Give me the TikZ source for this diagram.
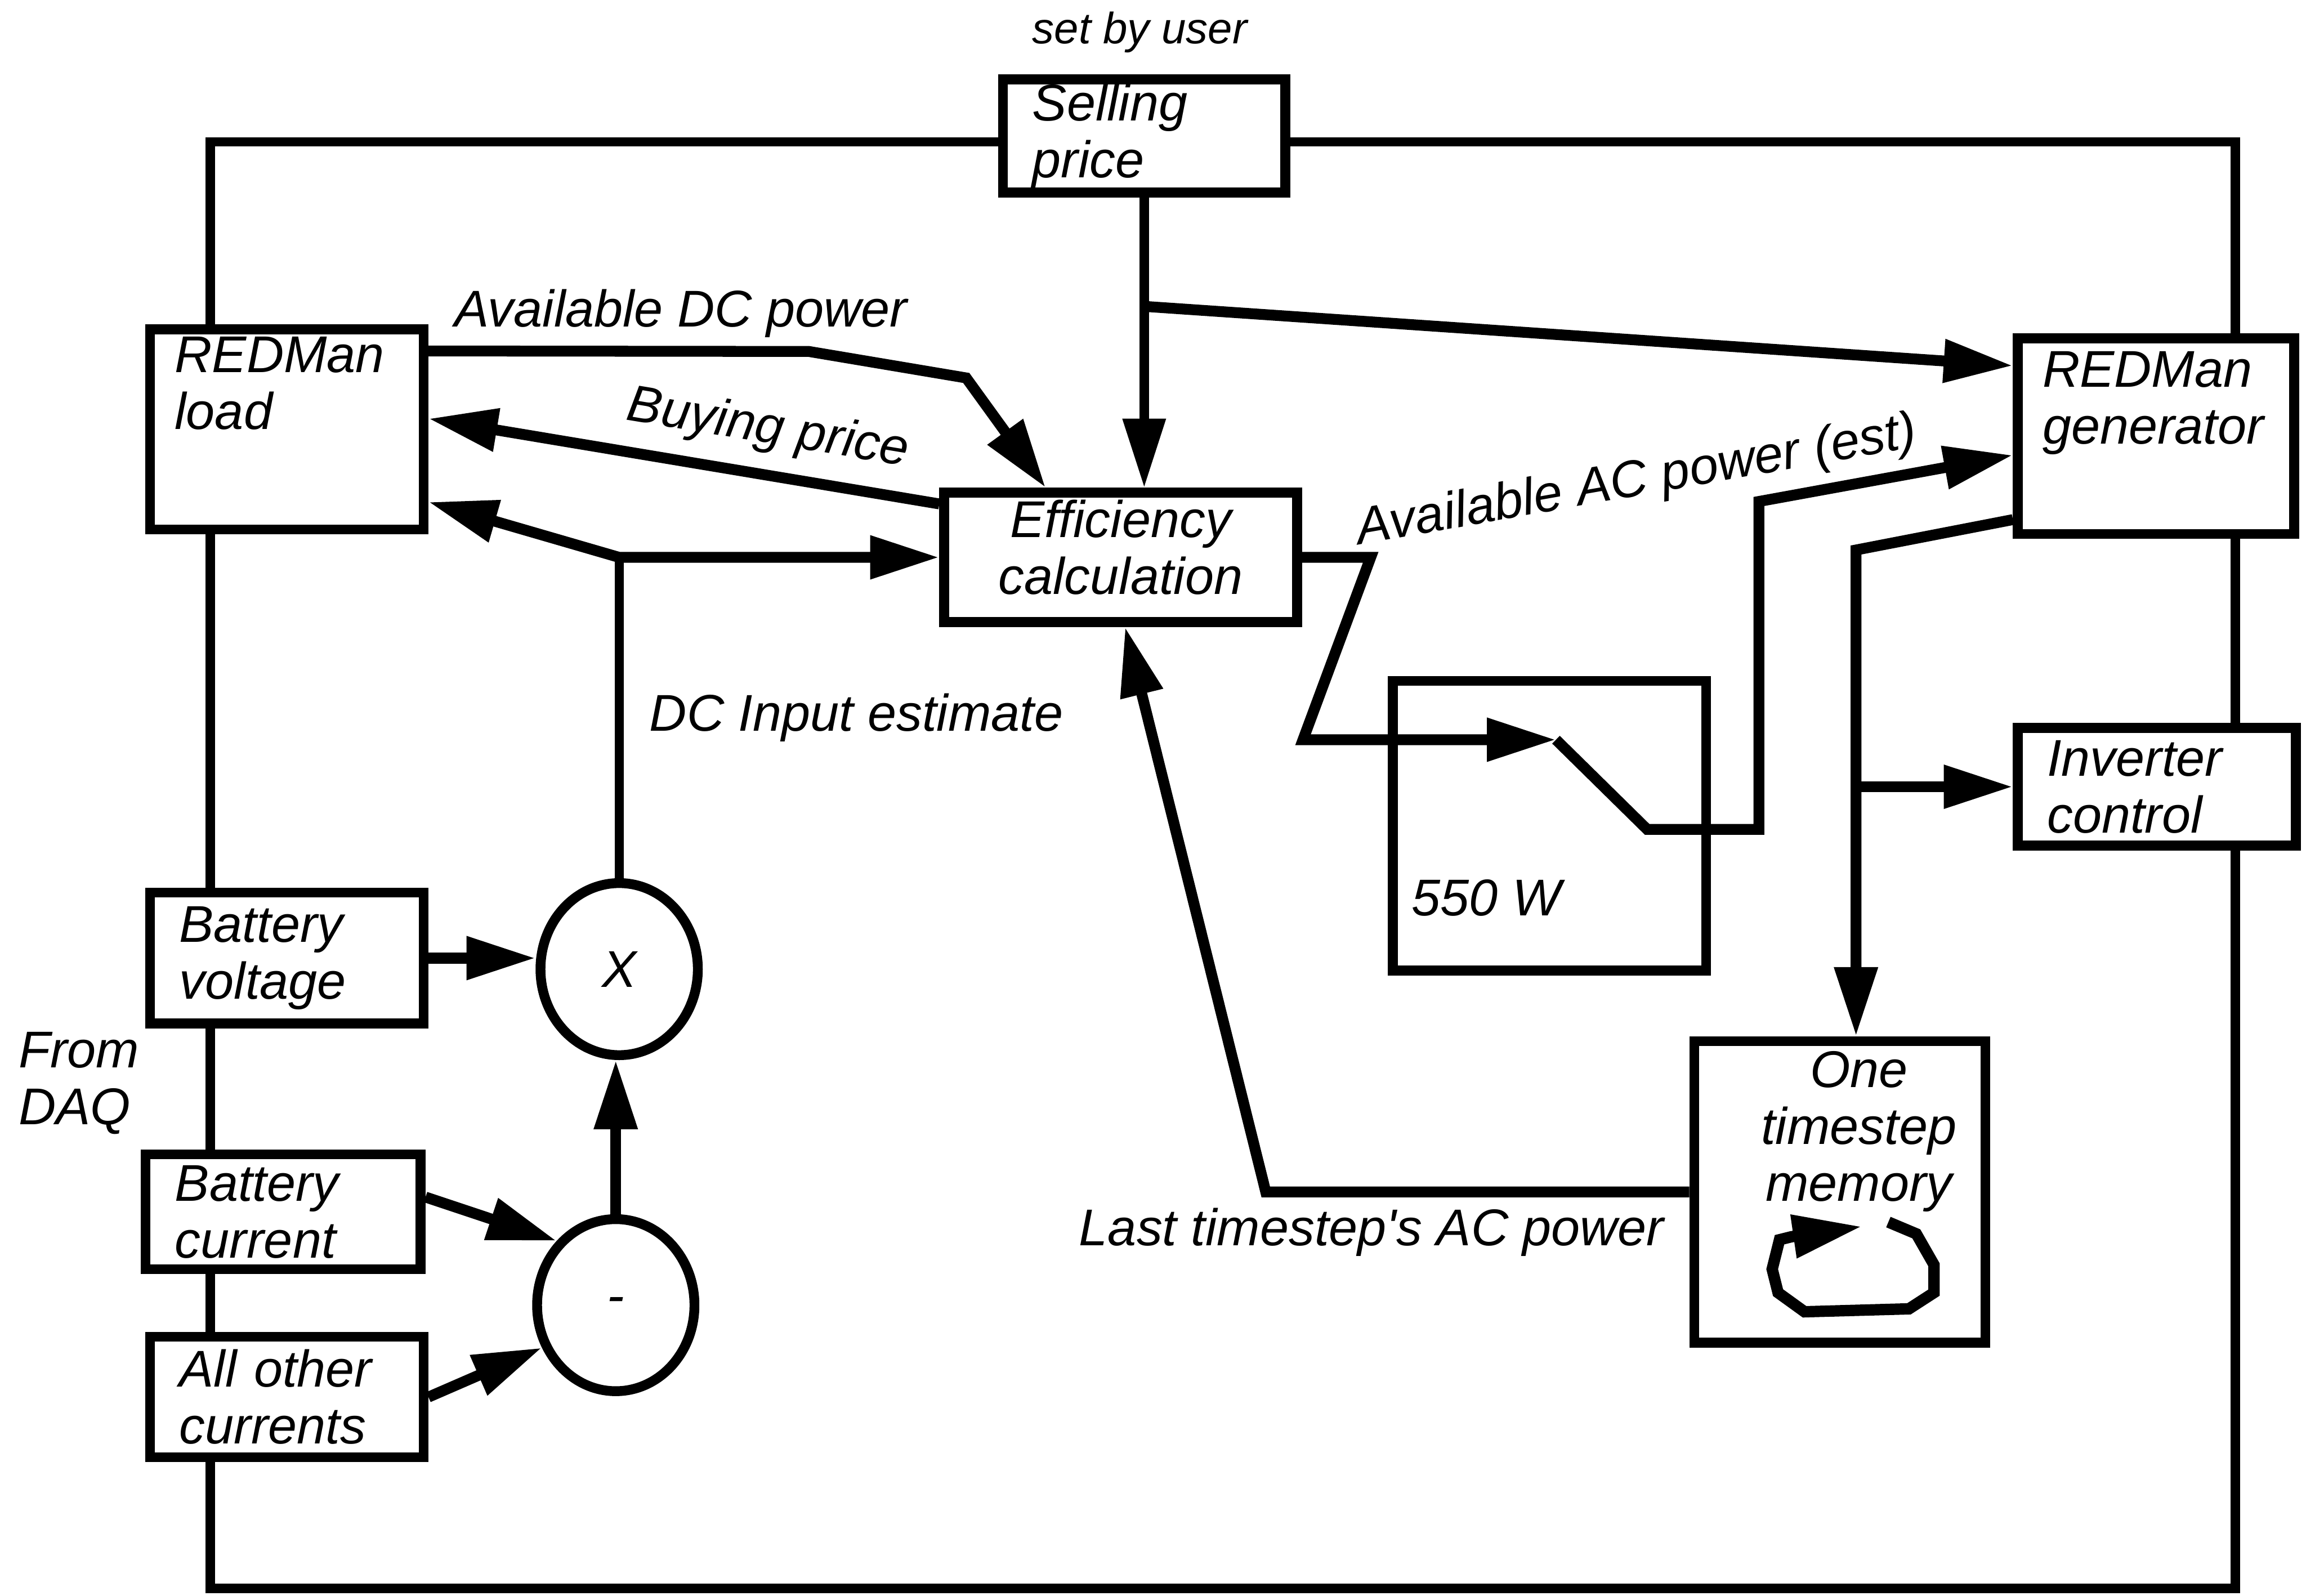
\documentclass[tikz,border=0pt]{standalone}
\usepackage{fontspec}
\setmainfont{Liberation Sans}
\usepackage{tikz}
\usetikzlibrary{positioning,arrows.meta,shapes.geometric,calc}
\tikzset{
  every node/.style={font=\fontsize{10}{11}\selectfont\itshape},
  >={Triangle[length=4.7mm,width=2.8mm]},
  blk/.style={
    rectangle, draw, line width=1.9pt,
    inner xsep=0.2cm, inner ysep=0pt,
    align=left
  },
  sumnode/.style={
    ellipse, draw, line width=1.9pt,
    minimum width=1.07cm, minimum height=1.17cm,
    inner sep=0pt
  },
  lbl/.style={inner sep=1pt},
  wire/.style={line width=1.8pt},
  flow/.style={->, line width=2.1pt},
}

\begin{document}
\begin{tikzpicture}
  \useasboundingbox (0,0) rectangle (15.68,10.85);
  % blocks
  \node[blk, minimum width=1.92cm, minimum height=0.77cm, text width=1.52cm] (sell) at (7.78,9.925) {Selling\\price};
  \node[blk, minimum width=1.86cm, minimum height=1.36cm] (load) at (1.95,7.93) {};
  \node[lbl, anchor=north west, align=left] (loadtxt) at ([shift={(0.16,-0.04)}]load.north west) {REDMan\\load};
  \node[blk, minimum width=2.40cm, minimum height=0.88cm] (eff) at (7.62,7.06) {};
  \node[lbl, align=center] (efftxt) at ([yshift=0.07cm]eff.center) {Efficiency\\calculation};
  \node[blk, minimum width=1.88cm, minimum height=1.33cm] (gen) at (14.66,7.885) {};
  \node[lbl, anchor=north west, align=left] (gentxt) at ([shift={(0.16,-0.08)}]gen.north west) {REDMan\\generator};
  \node[blk, minimum width=1.89cm, minimum height=0.80cm, text width=1.49cm] (inv) at (14.665,5.50) {Inverter\\control};
  \node[blk, minimum width=2.13cm, minimum height=1.97cm] (lim) at (10.535,5.235) {};
  \node[lbl, anchor=south west] (limtxt) at ([shift={(0.12,0.36)}]lim.south west) {550 W};
  \node[blk, minimum width=1.98cm, minimum height=2.05cm] (mem) at (12.51,2.745) {};
  \node[lbl, anchor=north, align=center] (memtxt) at ([shift={(0.13,-0.06)}]mem.north) {One\\timestep\\memory};
  \node[blk, minimum width=1.86cm, minimum height=0.89cm, text width=1.46cm] (volt) at (1.95,4.335) {Battery\\voltage};
  \node[blk, minimum width=1.87cm, minimum height=0.78cm, text width=1.47cm] (curr) at (1.925,2.61) {Battery\\current};
  \node[blk, minimum width=1.86cm, minimum height=0.82cm, text width=1.46cm] (oth) at (1.95,1.35) {All other\\currents};
  \node[sumnode] (mul) at (4.21,4.26) {X};
  \node[sumnode] (sub) at (4.187,1.975) {-};

  % free labels
  \node[lbl, font=\fontsize{8.5}{10}\selectfont\itshape] (user) at (7.75,10.63) {set by user};
  \node[lbl, anchor=west, align=left] (daq) at (0.085,3.485) {From\\DAQ};
  \node[lbl] (dcpw) at (4.63,8.72) {Available DC power};
  \node[lbl, rotate=10] (acpw) at (11.13,7.57) {Available AC power (est)};
  \node[lbl] (lastac) at (9.325,2.47) {Last timestep\textquotesingle s AC power};

  % outer loop
  \coordinate (fbl) at (1.43,0.05);
  \coordinate (fbr) at (15.20,0.05);
  \draw[wire] ([yshift=-0.4mm]sell.west) -| (load.north -| fbl);
  \draw[wire] (load.south -| fbl) -- (volt.north -| fbl);
  \draw[wire] (volt.south -| fbl) -- (curr.north -| fbl);
  \draw[wire] (curr.south -| fbl) -- (oth.north -| fbl);
  \draw[wire] (oth.south -| fbl) -- (fbl) -- (fbr) -- (inv.south -| fbr);
  \draw[wire] (inv.north -| fbr) -- (gen.south -| fbr);
  \draw[wire] (gen.north -| fbr) |- ([yshift=-0.4mm]sell.east);

  % price
  \coordinate (pj) at ([yshift=-7.4mm]sell.south);
  \draw[wire, ->] (sell.south) -- (sell.south |- eff.north);
  \draw[flow] (pj) -- ([yshift=-2.2mm]gen.north west);
  \draw[flow] ([yshift=-1.8mm]load.north east) -- (5.50,8.46) -- (6.57,8.28) -- ([xshift=-5.1mm]eff.north);
  \draw[flow] ([yshift=-1.1mm]eff.north west) -- ([yshift=-6.4mm]load.north east)
    node[lbl, pos=0.35, sloped, above=2pt] (buy) {Buying price};

  % DC input
  \coordinate (dcj) at (mul.north |- eff.west);
  \draw[wire] (mul.north) -- (dcj) node[lbl, pos=0.5, right=1.4mm] (dcin) {DC Input estimate};
  \draw[flow, <->] ([yshift=2.2mm]load.south east) -- (dcj) -- (eff.west);
  \draw[flow] (volt.east) -- (volt.east -| mul.west);
  \draw[flow] ([yshift=1mm]curr.east) -- (sub.north west);
  \draw[flow] (oth.east) -- (sub.210);
  \draw[flow] (sub.north) -- (sub.north |- mul.south);

  % AC side
  \coordinate (kn) at ([shift={(0.045,0.585)}]lim.center);
  \draw[flow] (eff.east) -- (9.32,7.06) -- (8.86,5.82) -- (kn);
  \draw[flow] (kn) -- (11.20,5.21) -- (11.96,5.21) -- (11.96,7.44) -- ([yshift=-1.3mm]gen.west);
  \coordinate (gj) at (12.62,7.11);
  \draw[flow] ([yshift=1.3mm]gen.south west) -- (gj) -- (gj |- mem.north);
  \draw[flow] (gj |- inv.west) -- (inv.west);
  \draw[flow] (mem.west) -- ++(-2.88,0) -- ([xshift=0.3mm]eff.south);

  % memory loop
  \draw[flow, line width=2.2pt] (12.84,2.54) -- (13.03,2.46) -- (13.15,2.25) -- (13.15,2.06) -- (12.98,1.95)
    -- (12.27,1.93) -- (12.09,2.06) -- (12.05,2.22) -- (12.10,2.42) -- (12.18,2.44) -- (12.66,2.51);
\end{tikzpicture}
\end{document}
